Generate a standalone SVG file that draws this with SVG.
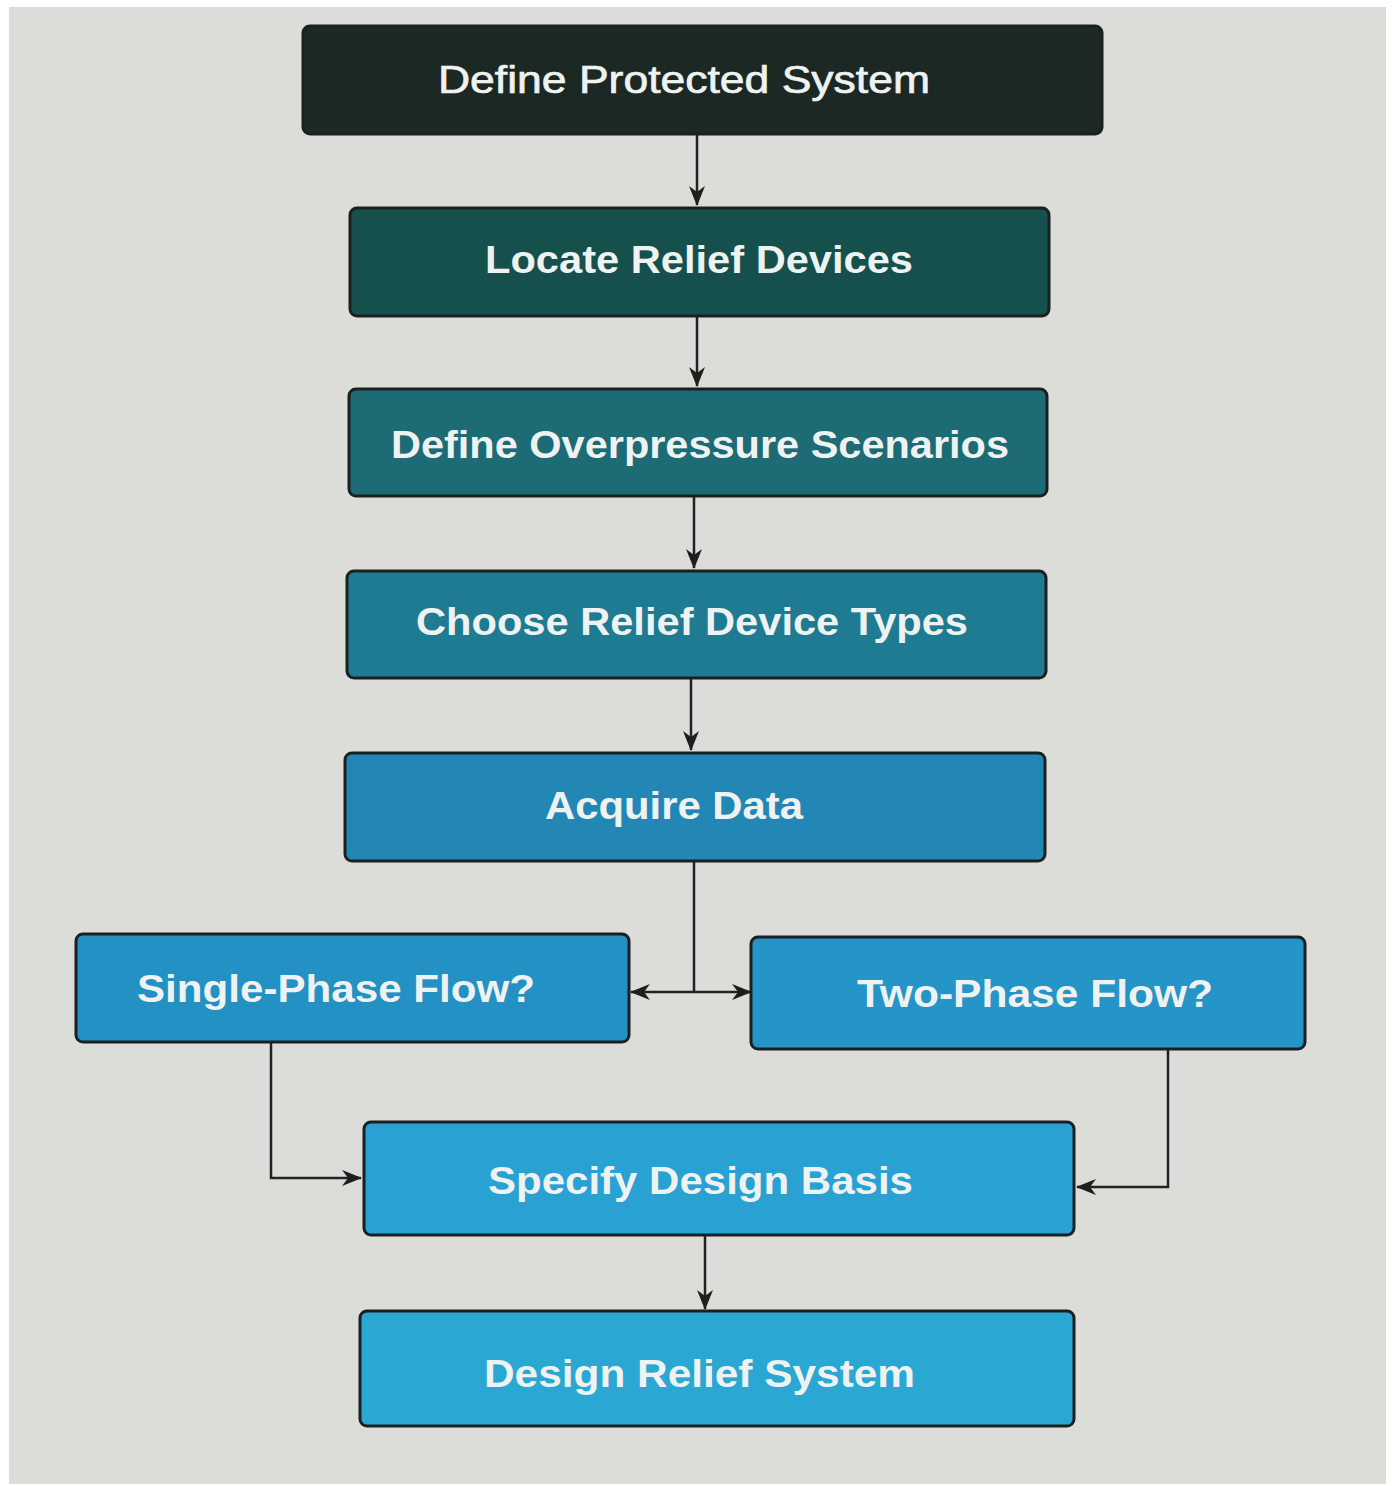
<svg xmlns="http://www.w3.org/2000/svg" width="1392" height="1486" viewBox="0 0 1392 1486">
<defs>
<style>
.box{stroke:#1a2020;stroke-width:3}
.lbl{font-family:"Liberation Sans",Arial,sans-serif;font-size:38px;font-weight:bold;fill:#eef3f2}
.lbl.reg{font-weight:normal;stroke:#eef3f2;stroke-width:0.7}
.con{fill:none;stroke:#222222;stroke-width:2.5}
</style>
<marker id="arr" viewBox="0 0 20 16" refX="19" refY="8" markerWidth="20" markerHeight="16" markerUnits="userSpaceOnUse" orient="auto">
<path d="M0,0 L20,8 L0,16 L6,8 Z" fill="#1e1e1e"/>
</marker>
</defs>
<rect x="0" y="0" width="1392" height="1486" fill="#ffffff"/>
<rect x="9" y="7" width="1377" height="1477" fill="#dcdcd8"/>

<g id="connectors">
<line class="con" x1="697" y1="135" x2="697" y2="205" marker-end="url(#arr)"/>
<line class="con" x1="697" y1="316" x2="697" y2="386" marker-end="url(#arr)"/>
<line class="con" x1="694" y1="497" x2="694" y2="568" marker-end="url(#arr)"/>
<line class="con" x1="691" y1="678" x2="691" y2="750" marker-end="url(#arr)"/>
<line class="con" x1="694" y1="862" x2="694" y2="992"/>
<line class="con" x1="694" y1="992" x2="631" y2="992" marker-end="url(#arr)"/>
<line class="con" x1="694" y1="992" x2="751" y2="992" marker-end="url(#arr)"/>
<polyline class="con" points="271,1043 271,1178 361,1178" marker-end="url(#arr)"/>
<polyline class="con" points="1168,1050 1168,1187 1077,1187" marker-end="url(#arr)"/>
<line class="con" x1="705" y1="1236" x2="705" y2="1309" marker-end="url(#arr)"/>
</g>

<g id="n1">
<rect class="box" x="303" y="26" width="799" height="108" rx="7" fill="#1c2823"/>
<text class="lbl reg" x="438" y="93" textLength="492" lengthAdjust="spacingAndGlyphs">Define Protected System</text>
</g>
<g id="n2">
<rect class="box" x="350" y="208" width="699" height="108" rx="7" fill="#16504c"/>
<text class="lbl" x="485" y="273" textLength="428" lengthAdjust="spacingAndGlyphs">Locate Relief Devices</text>
</g>
<g id="n3">
<rect class="box" x="349" y="389" width="698" height="107" rx="7" fill="#1c6b75"/>
<text class="lbl" x="391" y="458" textLength="618" lengthAdjust="spacingAndGlyphs">Define Overpressure Scenarios</text>
</g>
<g id="n4">
<rect class="box" x="347" y="571" width="699" height="107" rx="7" fill="#1f7b92"/>
<text class="lbl" x="416" y="635" textLength="552" lengthAdjust="spacingAndGlyphs">Choose Relief Device Types</text>
</g>
<g id="n5">
<rect class="box" x="345" y="753" width="700" height="108" rx="7" fill="#2387b6"/>
<text class="lbl" x="545" y="819" textLength="258" lengthAdjust="spacingAndGlyphs">Acquire Data</text>
</g>
<g id="n6">
<rect class="box" x="76" y="934" width="553" height="108" rx="7" fill="#2391c4"/>
<text class="lbl" x="137" y="1002" textLength="398" lengthAdjust="spacingAndGlyphs">Single-Phase Flow?</text>
</g>
<g id="n7">
<rect class="box" x="751" y="937" width="554" height="112" rx="7" fill="#2594c6"/>
<text class="lbl" x="857" y="1007" textLength="356" lengthAdjust="spacingAndGlyphs">Two-Phase Flow?</text>
</g>
<g id="n8">
<rect class="box" x="364" y="1122" width="710" height="113" rx="7" fill="#29a1d3"/>
<text class="lbl" x="488" y="1194" textLength="425" lengthAdjust="spacingAndGlyphs">Specify Design Basis</text>
</g>
<g id="n9">
<rect class="box" x="360" y="1311" width="714" height="115" rx="7" fill="#2aa7d3"/>
<text class="lbl" x="484" y="1387" textLength="431" lengthAdjust="spacingAndGlyphs">Design Relief System</text>
</g>
</svg>
